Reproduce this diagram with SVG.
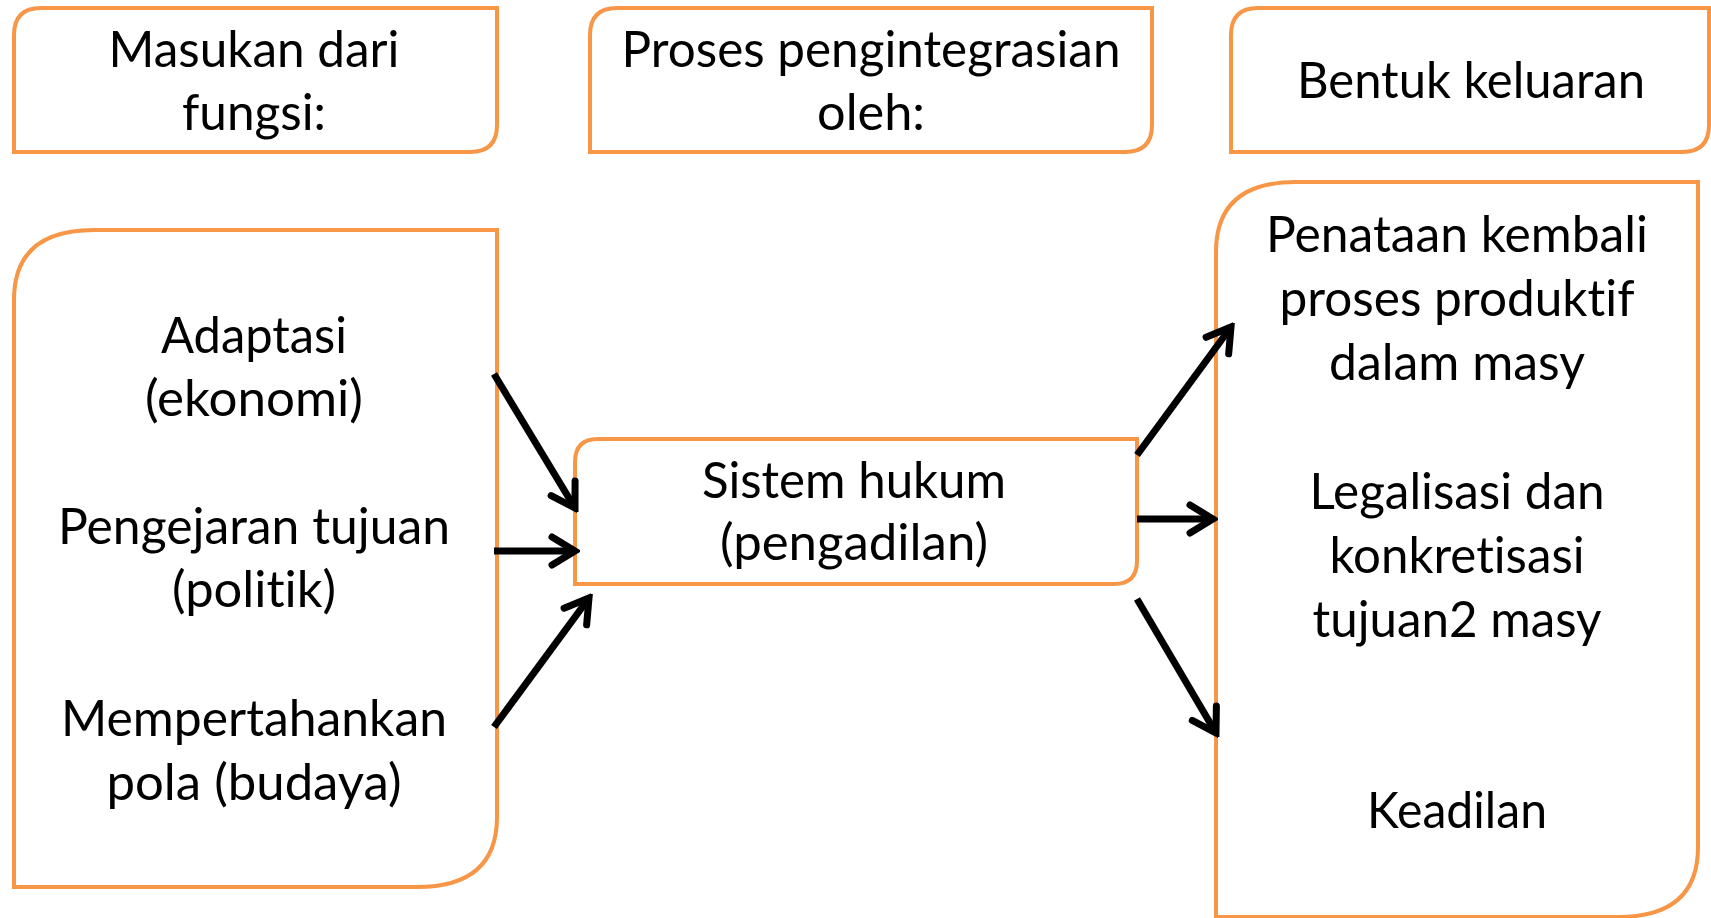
<svg xmlns="http://www.w3.org/2000/svg" width="1711" height="918" viewBox="0 0 1711 918">
<defs>
<style>
.box{fill:#fff;stroke:#F79646;stroke-width:4}
.t{font-family:Lato,"Open Sans","Liberation Sans",sans-serif;font-size:50px;fill:#000;text-anchor:middle;font-variant-ligatures:none;font-feature-settings:"liga" 0,"clig" 0}
.c{stroke:#000;stroke-width:7;fill:none}
</style>
<marker id="ah" markerUnits="userSpaceOnUse" markerWidth="36" markerHeight="36" viewBox="0 0 36 36" refX="31" refY="18" orient="auto">
<path d="M8,4 L31,18 L8,32" fill="none" stroke="#000" stroke-width="7" stroke-linecap="round" stroke-linejoin="miter"/>
</marker>
</defs>
<rect width="1711" height="918" fill="#fff"/>
<g id="masukan">
<path class="box" d="M14,152 L14,35 Q14,8 41,8 L497,8 L497,125 Q497,152 470,152 Z"/>
<text class="t" x="254" y="67" textLength="291" lengthAdjust="spacingAndGlyphs">Masukan dari</text>
<text class="t" x="254" y="130" textLength="144" lengthAdjust="spacingAndGlyphs">fungsi:</text>
</g>
<g id="proses">
<path class="box" d="M590,152 L590,35 Q590,8 617,8 L1152,8 L1152,125 Q1152,152 1125,152 Z"/>
<text class="t" x="871" y="67" textLength="499" lengthAdjust="spacingAndGlyphs">Proses pengintegrasian</text>
<text class="t" x="871" y="130" textLength="108" lengthAdjust="spacingAndGlyphs">oleh:</text>
</g>
<g id="bentuk">
<path class="box" d="M1231,152 L1231,35 Q1231,8 1258,8 L1709,8 L1709,125 Q1709,152 1682,152 Z"/>
<text class="t" x="1471" y="98" textLength="348" lengthAdjust="spacingAndGlyphs">Bentuk keluaran</text>
</g>
<g id="masukan-list">
<path class="box" d="M14,887 L14,300 Q14,230 94,230 L497,230 L497,817 Q497,887 417,887 Z"/>
<text class="t" x="254" y="353" textLength="186" lengthAdjust="spacingAndGlyphs">Adaptasi</text>
<text class="t" x="254" y="416" textLength="218" lengthAdjust="spacingAndGlyphs">(ekonomi)</text>
<text class="t" x="254" y="544" textLength="392" lengthAdjust="spacingAndGlyphs">Pengejaran tujuan</text>
<text class="t" x="254" y="607" textLength="164" lengthAdjust="spacingAndGlyphs">(politik)</text>
<text class="t" x="254" y="736" textLength="386" lengthAdjust="spacingAndGlyphs">Mempertahankan</text>
<text class="t" x="254" y="800" textLength="295" lengthAdjust="spacingAndGlyphs">pola (budaya)</text>
</g>
<g id="sistem-hukum">
<path class="box" d="M575,584 L575,462 Q575,439 598,439 L1137,439 L1137,561 Q1137,584 1114,584 Z"/>
<text class="t" x="854" y="498" textLength="304" lengthAdjust="spacingAndGlyphs">Sistem hukum</text>
<text class="t" x="854" y="560" textLength="268" lengthAdjust="spacingAndGlyphs">(pengadilan)</text>
</g>
<g id="keluaran-list">
<path class="box" d="M1216,917 L1216,252 Q1216,182 1296,182 L1698,182 L1698,847 Q1698,917 1618,917 Z"/>
<text class="t" x="1457" y="252" textLength="382" lengthAdjust="spacingAndGlyphs">Penataan kembali</text>
<text class="t" x="1457" y="316" textLength="355" lengthAdjust="spacingAndGlyphs">proses produktif</text>
<text class="t" x="1457" y="380" textLength="256" lengthAdjust="spacingAndGlyphs">dalam masy</text>
<text class="t" x="1457" y="509" textLength="295" lengthAdjust="spacingAndGlyphs">Legalisasi dan</text>
<text class="t" x="1457" y="573" textLength="255" lengthAdjust="spacingAndGlyphs">konkretisasi</text>
<text class="t" x="1457" y="637" textLength="289" lengthAdjust="spacingAndGlyphs">tujuan2 masy</text>
<text class="t" x="1457" y="828" textLength="180" lengthAdjust="spacingAndGlyphs">Keadilan</text>
</g>
<g id="connectors">
<line class="c" x1="494" y1="374" x2="575" y2="508" marker-end="url(#ah)"/>
<line class="c" x1="494" y1="551" x2="575" y2="551" marker-end="url(#ah)"/>
<line class="c" x1="494" y1="727" x2="589" y2="598" marker-end="url(#ah)"/>
<line class="c" x1="1137" y1="455" x2="1231" y2="327" marker-end="url(#ah)"/>
<line class="c" x1="1137" y1="519" x2="1213" y2="519" marker-end="url(#ah)"/>
<line class="c" x1="1137" y1="599" x2="1216" y2="733" marker-end="url(#ah)"/>
</g>
</svg>
